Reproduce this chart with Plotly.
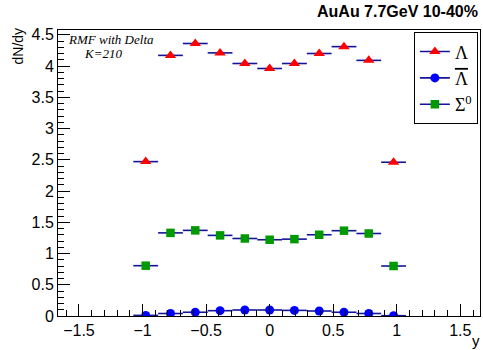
import plotly.graph_objects as go

# data
y_centers = [-0.975, -0.78, -0.585, -0.39, -0.195, 0.0, 0.195, 0.39, 0.585, 0.78, 0.975]
half_bin = 0.0975
lambda_vals = [2.47, 4.17, 4.36, 4.21, 4.04, 3.96, 4.04, 4.20, 4.31, 4.09, 2.46]
antilambda_vals = [0.01, 0.04, 0.06, 0.085, 0.096, 0.096, 0.09, 0.08, 0.06, 0.04, 0.005]
sigma0_vals = [0.805, 1.33, 1.37, 1.29, 1.24, 1.22, 1.23, 1.30, 1.365, 1.32, 0.80]

x_ticks = [-1.5, -1, -0.5, 0, 0.5, 1, 1.5]
x_tick_labels = ["\u22121.5", "\u22121", "\u22120.5", "0", "0.5", "1", "1.5"]
y_ticks = [0, 0.5, 1, 1.5, 2, 2.5, 3, 3.5, 4, 4.5]
y_tick_labels = ["0", "0.5", "1", "1.5", "2", "2.5", "3", "3.5", "4", "4.5"]

ERR_COLOR = "#14149a"

fig = go.Figure()

series = [
    ("Λ", lambda_vals, "triangle-up", "#ff0000", 10),
    ('<span style="text-decoration:overline">Λ</span>', antilambda_vals, "circle", "#0000ff", 9),
    ("Σ<sup>0</sup>", sigma0_vals, "square", "#009900", 8.5),
]

for name, vals, sym, col, size in series:
    fig.add_trace(go.Scatter(
        x=y_centers, y=vals, mode="markers", name=name, showlegend=False,
        marker=dict(symbol=sym, color=col, size=size, line=dict(width=0)),
        error_x=dict(type="constant", value=half_bin, color=ERR_COLOR,
                     thickness=1.6, width=0),
    ))
    # legend entry
    fig.add_trace(go.Scatter(
        x=[None], y=[None], mode="lines+markers", name=name, showlegend=True,
        marker=dict(symbol=sym, color=col, size=size, line=dict(width=0)),
        line=dict(color=ERR_COLOR, width=1.6),
    ))

axis_common = dict(
    showline=True, linecolor="black", linewidth=1, mirror=True,
    ticks="inside", ticklen=12, tickcolor="black", tickwidth=1,
    showgrid=False, zeroline=False,
    tickfont=dict(family="Liberation Sans, Arial", size=16, color="black"),
)

fig.update_xaxes(range=[-1.665, 1.655], tickvals=x_ticks, ticktext=x_tick_labels,
                 minor=dict(dtick=0.1, tick0=0, ticklen=6, ticks="inside", tickcolor="black"),
                 **axis_common)
fig.update_yaxes(range=[0, 4.576], tickvals=y_ticks, ticktext=y_tick_labels,
                 minor=dict(dtick=0.1, tick0=0, ticklen=6, ticks="inside", tickcolor="black"),
                 **axis_common)

fig.update_layout(
    width=483, height=350,
    margin=dict(l=58, r=3, t=30, b=34),
    paper_bgcolor="white", plot_bgcolor="white",
    legend=dict(x=0.995, xanchor="right", y=0.992, yanchor="top",
                bordercolor="black", borderwidth=1, bgcolor="white",
                font=dict(family="Liberation Serif, Times New Roman", size=18, color="black"),
                itemwidth=30, tracegroupgap=0),
    annotations=[
        dict(text="<b>AuAu 7.7GeV 10-40%</b>", xref="paper", yref="paper",
             x=1.0, y=1.063, xanchor="right", yanchor="middle", showarrow=False,
             font=dict(family="Liberation Sans, Arial", size=16, color="black")),
        dict(text="dN/dy", xref="paper", yref="paper", x=(17 - 58) / 422, y=1 + (30 - 26) / 286,
             xanchor="center", yanchor="top", textangle=-90, showarrow=False,
             font=dict(family="Liberation Sans, Arial", size=14, color="black")),
        dict(text="y", xref="paper", yref="paper", x=(476 - 58) / 422, y=-0.084,
             xanchor="center", yanchor="middle", showarrow=False,
             font=dict(family="Liberation Sans, Arial", size=15, color="black")),
        dict(text="<i>RMF with Delta</i>", xref="paper", yref="paper",
             x=(66 - 58) / 422, y=1 - (39 - 30) / 286, xanchor="left", yanchor="middle",
             showarrow=False,
             font=dict(family="Liberation Serif, Times New Roman", size=13, color="black")),
        dict(text="<i>K=210</i>", xref="paper", yref="paper",
             x=(103 - 58) / 422, y=1 - (53 - 30) / 286, xanchor="center", yanchor="middle",
             showarrow=False,
             font=dict(family="Liberation Serif, Times New Roman", size=13, color="black")),
    ],
)

fig.write_html("out.html", config={"displayModeBar": False},
               post_script="document.body.style.margin='0';")
